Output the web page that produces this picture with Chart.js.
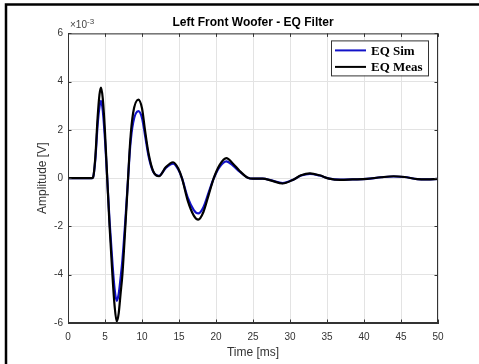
<!DOCTYPE html>
<html lang="en">
<head>
<meta charset="UTF-8">
<title>Left Front Woofer - EQ Filter</title>
<script src="https://cdn.jsdelivr.net/npm/chart.js"></script>
<style>
    body { margin: 0; background: #fff; }
    canvas { display: block; }
</style>
</head>
<body>
<canvas id="eqChart" width="479" height="364"></canvas>
<script>
    // time axis [ms] and amplitudes in units of 1e-3 V
    const timeMs = [0, 3.2, 3.4, 3.7, 4.0, 4.25, 4.46, 4.7, 5.0, 5.3, 5.62, 6.0, 6.3, 6.58, 6.85, 7.1, 7.35, 7.75, 8.12, 8.4, 8.8, 9.5, 10.0, 10.4, 10.9, 11.5, 12.3, 13.2, 14.2, 14.9, 15.4, 16.2, 17.0, 17.6, 18.3, 19.0, 19.7, 20.5, 21.4, 22.3, 23.2, 24.3, 25.0, 26.3, 27.5, 29.0, 30.5, 31.5, 32.7, 34.0, 35.3, 36.8, 38.5, 40.4, 42.3, 44.0, 45.5, 47.2, 48.5, 50];
    const eqSim = [0, 0, 0.05, 0.8, 2.2, 2.95, 3.2, 2.8, 1.6, 0, -1.8, -3.5, -4.6, -5.08, -4.8, -4.15, -3.4, -1.75, 0, 1.3, 2.3, 2.78, 2.5, 1.8, 0.9, 0.28, 0.1, 0.42, 0.6, 0.36, 0, -0.82, -1.32, -1.46, -1.2, -0.6, 0, 0.47, 0.7, 0.52, 0.27, 0.02, -0.02, -0.02, -0.09, -0.2, -0.05, 0.11, 0.18, 0.11, -0.02, -0.06, -0.05, -0.03, 0.04, 0.07, 0.05, -0.04, -0.05, -0.03];
    const eqMeas = [0, 0, 0.05, 0.9, 2.5, 3.45, 3.75, 3.3, 1.9, 0, -2.0, -4.0, -5.3, -5.94, -5.6, -4.8, -4.0, -2.0, 0, 1.5, 2.7, 3.26, 2.9, 2.0, 1.0, 0.3, 0.08, 0.45, 0.66, 0.4, 0, -0.95, -1.55, -1.72, -1.4, -0.7, 0, 0.55, 0.83, 0.6, 0.3, 0.02, -0.02, -0.02, -0.1, -0.22, -0.05, 0.12, 0.2, 0.12, -0.02, -0.07, -0.05, -0.03, 0.04, 0.08, 0.05, -0.04, -0.05, -0.03];
    const seriesNames = ['EQ Sim', 'EQ Meas'];
    const xTicks = [0, 5, 10, 15, 20, 25, 30, 35, 40, 45, 50];
    const yTicks = [-6, -4, -2, 0, 2, 4, 6];

    const axisColor = '#333333';
    const gridColor = '#e3e3e3';

    function toPoints(ys) {
        return timeMs.map((t, i) => ({ x: t, y: ys[i] }));
    }

    // frame, box, inner ticks, exponent label and legend (MATLAB style)
    const matlabDecor = {
        id: 'matlabDecor',
        afterDraw(chart) {
            const c = chart.ctx;
            const a = chart.chartArea;
            const xs = chart.scales.x, ys = chart.scales.y;
            c.save();

            // axes box
            c.strokeStyle = axisColor;
            c.lineWidth = 1;
            c.strokeRect(a.left + 0.5, a.top + 0.5, a.right - a.left - 1, a.bottom - a.top - 1);

            // inner tick marks
            const tl = 3.5;
            c.beginPath();
            xTicks.forEach(v => {
                const px = Math.round(xs.getPixelForValue(v)) + 0.5;
                c.moveTo(px, a.bottom); c.lineTo(px, a.bottom - tl);
                c.moveTo(px, a.top); c.lineTo(px, a.top + tl);
            });
            yTicks.forEach(v => {
                const py = Math.round(ys.getPixelForValue(v)) + 0.5;
                c.moveTo(a.left, py); c.lineTo(a.left + tl, py);
                c.moveTo(a.right, py); c.lineTo(a.right - tl, py);
            });
            c.stroke();

            // x10^-3
            c.fillStyle = '#444';
            c.textBaseline = 'middle';
            c.textAlign = 'left';
            c.font = '10px "Liberation Sans", Arial, sans-serif';
            c.fillText('\u00d710', a.left + 2, a.top - 8);
            const w = c.measureText('\u00d710').width;
            c.font = '8px "Liberation Sans", Arial, sans-serif';
            c.fillText('-3', a.left + 2 + w, a.top - 12);

            // legend
            const bx = a.right - 107, by = a.top + 7, bw = 97, bh = 35;
            c.fillStyle = '#fff';
            c.fillRect(bx, by, bw, bh);
            c.strokeStyle = '#333';
            c.lineWidth = 1;
            c.strokeRect(bx + 0.5, by + 0.5, bw, bh);
            c.font = 'bold 13px "Liberation Serif", "Times New Roman", serif';
            chart.data.datasets.forEach((ds, i) => {
                const yy = by + 10 + i * 16.5;
                c.strokeStyle = ds.borderColor;
                c.lineWidth = 2;
                c.beginPath();
                c.moveTo(bx + 4, yy); c.lineTo(bx + 35, yy);
                c.stroke();
                c.fillStyle = '#000';
                c.fillText(ds.label, bx + 40, yy + 1);
            });

            // outer frame of the figure
            c.strokeStyle = '#000';
            c.lineWidth = 2.5;
            c.beginPath();
            c.moveTo(6, chart.height);
            c.lineTo(6, 4.5);
            c.lineTo(chart.width, 4.5);
            c.stroke();

            c.restore();
        }
    };

    const ctx = document.getElementById('eqChart').getContext('2d');
    new Chart(ctx, {
        type: 'line',
        data: {
            datasets: [{
                label: seriesNames[0],
                data: toPoints(eqSim),
                borderColor: 'rgb(18, 18, 200)',
                borderWidth: 2.2,
                pointRadius: 0,
                cubicInterpolationMode: 'monotone',
                order: 1
            }, {
                label: seriesNames[1],
                data: toPoints(eqMeas),
                borderColor: '#000000',
                borderWidth: 2.2,
                pointRadius: 0,
                cubicInterpolationMode: 'monotone',
                order: 0
            }]
        },
        options: {
            responsive: false,
            animation: false,
            layout: { padding: { left: 31, right: 41, top: 0, bottom: 0 } },
            plugins: {
                legend: { display: false },
                tooltip: { enabled: false },
                title: {
                    display: true,
                    fullSize: false,
                    text: 'Left Front Woofer - EQ Filter',
                    color: '#000',
                    font: { family: '"Liberation Sans", Arial, sans-serif', size: 12, weight: 'bold' },
                    padding: { top: 15, bottom: 4 }
                }
            },
            scales: {
                x: {
                    type: 'linear',
                    min: 0,
                    max: 50,
                    afterBuildTicks: s => { s.ticks = xTicks.map(v => ({ value: v })); },
                    afterFit: s => { s.height = 41; },
                    grid: { color: gridColor, drawTicks: false },
                    border: { color: axisColor },
                    ticks: {
                        color: axisColor,
                        padding: 8,
                        maxRotation: 0,
                        font: { family: '"Liberation Sans", Arial, sans-serif', size: 10 }
                    },
                    title: {
                        display: true,
                        text: 'Time [ms]',
                        color: axisColor,
                        padding: { top: 0, bottom: 4 },
                        font: { family: '"Liberation Sans", Arial, sans-serif', size: 12 }
                    }
                },
                y: {
                    min: -6,
                    max: 6,
                    afterBuildTicks: s => { s.ticks = yTicks.map(v => ({ value: v })); },
                    afterFit: s => { s.width = 37; },
                    grid: { color: gridColor, drawTicks: false },
                    border: { color: axisColor },
                    ticks: {
                        color: axisColor,
                        padding: 5,
                        font: { family: '"Liberation Sans", Arial, sans-serif', size: 10 }
                    },
                    title: {
                        display: true,
                        text: 'Amplitude [V]',
                        color: axisColor,
                        padding: { top: 4, bottom: 0 },
                        font: { family: '"Liberation Sans", Arial, sans-serif', size: 12 }
                    }
                }
            }
        },
        plugins: [matlabDecor]
    });
</script>
</body>
</html>
